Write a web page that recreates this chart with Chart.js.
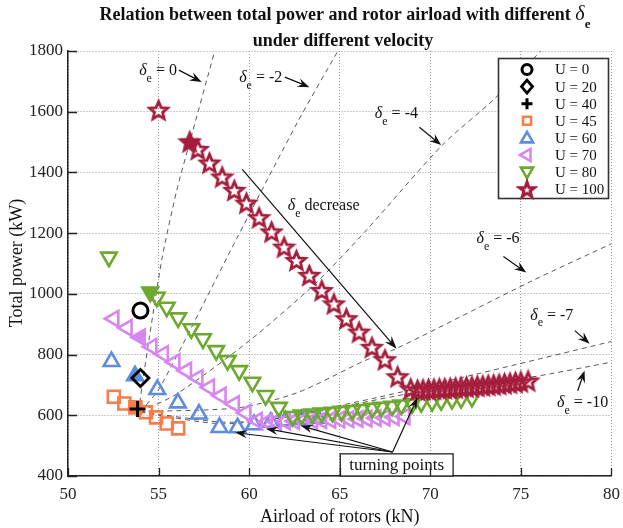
<!DOCTYPE html>
<html><head><meta charset="utf-8">
<script src="https://cdn.jsdelivr.net/npm/chart.js@4.4.0/dist/chart.umd.min.js"></script>
<style>html,body{margin:0;padding:0;background:#fff;}</style>
</head><body>
<canvas id="c" width="623" height="528"></canvas>
<script>
// ---------------- data ----------------
const xTickValues = [50, 55, 60, 65, 70, 75, 80];
const yTickValues = [400, 600, 800, 1000, 1200, 1400, 1600, 1800];
const seriesLabels = ['U = 0', 'U = 20', 'U = 40', 'U = 45', 'U = 60', 'U = 70', 'U = 80', 'U = 100'];

const u0X = [54.0];
const u0Y = [945];
const u20X = [54.0];
const u20Y = [723];
const u40X = [53.84];
const u40Y = [621];
const u45X = [52.53, 53.11, 53.72, 54.30, 54.86, 55.45, 56.08];
const u45Y = [661, 639, 626, 610, 593, 573, 557];
const u60X = [52.4, 53.7, 54.93, 56.07, 57.23, 58.36, 59.36, 60.27, 61.19, 62.0, 62.9, 63.8];
const u60Y = [777, 730, 685, 641, 604, 560, 559, 569, 577, 582, 586, 590];
const u70X = [52.53, 53.26, 53.99, 54.63, 55.26, 55.9, 56.54, 57.17, 57.81, 58.45, 59.18, 59.82, 60.45,
              61.0, 61.5, 62.0, 62.5, 63.0, 63.5, 64.0, 64.5, 65.0, 65.5, 66.0, 66.5, 67.0, 67.5, 68.0, 68.6];
const u70Y = [918, 888, 857, 826, 802, 775, 747, 723, 692, 665, 637, 608, 582,
              578, 579, 580, 581, 582, 583, 584, 585, 586, 587, 588, 589, 591, 592, 594, 596];
const u80X = [52.26, 54.54, 54.9, 55.45, 56.08, 56.81, 57.45, 58.18, 58.81, 59.45, 60.18, 60.91, 61.64, 62.4,
              62.9, 63.5, 64.0, 64.6, 65.1, 65.7, 66.2, 66.8, 67.3, 67.9, 68.4, 69.0, 69.5, 70.1, 70.6, 71.2, 71.7, 72.3];
const u80Y = [1121, 1006, 989, 956, 921, 885, 852, 813, 780, 747, 709, 665, 626, 596,
              601, 604, 607, 610, 613, 616, 619, 623, 626, 630, 634, 638, 642, 645, 648, 652, 655, 659];
const u100X = [55.0, 56.72, 57.17, 57.81, 58.51, 59.18, 59.85, 60.55, 61.24, 61.93, 62.61, 63.32, 64.01, 64.68,
               65.37, 66.07, 66.78, 67.5, 68.2, 68.92, 69.3, 69.6, 69.9, 70.2, 70.5, 70.8, 71.1, 71.4, 71.7, 72.0,
               72.3, 72.6, 72.9, 73.2, 73.5, 73.8, 74.1, 74.4, 74.7, 75.0, 75.4];
const u100Y = [1605, 1501, 1476, 1431, 1385, 1341, 1299, 1251, 1204, 1154, 1110, 1061, 1011, 967,
               918, 874, 824, 783, 727, 687, 683, 684, 685, 686, 687, 688, 689, 690, 692, 693,
               694, 696, 697, 699, 700, 702, 704, 706, 708, 710, 713];

// constant-delta_e reference curves
const de0X = [53.9, 54.1, 54.5, 55.2, 56.0, 56.7, 58.1];
const de0Y = [612, 700, 860, 1120, 1340, 1495, 1800];
const de2X = [54.0, 55.08, 59.27, 62.73, 64.9];
const de2Y = [612, 692, 1177, 1572, 1800];
const de4X = [54.0, 56.0, 60.0, 63.64, 66.46, 70.66, 73.5, 76.1];
const de4Y = [612, 670, 845, 1033, 1209, 1490, 1640, 1800];
const de6X = [54.0, 59.45, 62.73, 66.38, 68.1, 75.66, 80];
const de6Y = [612, 625, 676, 780, 819, 1044, 1165];
const de7X = [54.0, 58.4, 61.0, 67.1, 72.57, 80];
const de7Y = [612, 578, 585, 659, 736, 843];
const de10X = [54.0, 58.5, 62.5, 68.9, 75.5, 80];
const de10Y = [610, 572, 598, 672, 725, 775];

// ---------------- styling ----------------
const SERIF = '"Liberation Serif", "DejaVu Serif", serif';
const colors = ['#000000', '#000000', '#000000', '#F97C4A', '#5F8CDE', '#D886F0', '#6CA92E', '#A51D3D'];

function pts(xs, ys) { return xs.map((x, i) => ({ x: x, y: ys[i] })); }

function makeStar(R, color, filled, lw, ratio) {
  const c = document.createElement('canvas');
  const s = Math.ceil(R * 2 + 6);
  c.width = s; c.height = s;
  const g = c.getContext('2d');
  g.translate(s / 2, s / 2 + 0.8);
  g.beginPath();
  const r = R * ratio;
  for (let i = 0; i < 10; i++) {
    const a = -Math.PI / 2 + i * Math.PI / 5;
    const rr = i % 2 === 0 ? R : r;
    const px = Math.cos(a) * rr, py = Math.sin(a) * rr;
    if (i === 0) g.moveTo(px, py); else g.lineTo(px, py);
  }
  g.closePath();
  g.lineJoin = 'miter';
  g.lineWidth = lw;
  g.strokeStyle = color;
  if (filled) { g.fillStyle = color; g.fill(); }
  g.stroke();
  return c;
}
const starHollow = makeStar(9.5, colors[7], false, 2.8, 0.45);
const starFilled = makeStar(9.5, colors[7], true, 2.8, 0.45);
const starLegend = makeStar(8, colors[7], false, 3, 0.4);

function markerDs(idx, xs, ys, style, radius, lw, rotation, filledIndex, order) {
  const col = colors[idx];
  return {
    label: seriesLabels[idx],
    data: pts(xs, ys),
    showLine: false,
    borderColor: col,
    pointBorderColor: col,
    pointBackgroundColor: (ctx) => ctx.dataIndex === filledIndex ? col : 'rgba(0,0,0,0)',
    pointStyle: style,
    pointRadius: radius,
    pointBorderWidth: lw,
    pointRotation: rotation,
    order: order,
    _legend: { style: style, rotation: rotation, color: col, lw: lw }
  };
}
function lineDs(xs, ys) {
  return {
    label: '',
    data: pts(xs, ys),
    showLine: true,
    borderColor: '#5a5a5a',
    borderWidth: 1,
    borderDash: [5, 4],
    pointRadius: 0,
    tension: 0.25,
    order: 20
  };
}

const datasets = [
  markerDs(0, u0X, u0Y, 'circle', 7.5, 3, 0, -1, 1),
  markerDs(1, u20X, u20Y, 'rectRot', 8.5, 2.8, 0, -1, 2),
  markerDs(2, u40X, u40Y, 'cross', 8, 3, 0, -1, 3),
  markerDs(3, u45X, u45Y, 'rect', 8.5, 2.6, 0, 2, 9),
  markerDs(4, u60X, u60Y, 'triangle', 9, 2.6, 0, 1, 8),
  markerDs(5, u70X, u70Y, 'triangle', 9, 2.6, -90, 2, 7),
  markerDs(6, u80X, u80Y, 'triangle', 9, 2.6, 180, 1, 6),
  Object.assign(markerDs(7, u100X, u100Y, 'star', 9, 0, 0, 1, 5), {
    pointStyle: (ctx) => ctx.dataIndex === 1 ? starFilled : starHollow
  }),
  lineDs(de0X, de0Y), lineDs(de2X, de2Y), lineDs(de4X, de4Y),
  lineDs(de6X, de6Y), lineDs(de7X, de7Y), lineDs(de10X, de10Y)
];

// ---------------- helpers for drawing text/arrows ----------------
function arrow(ctx, x1, y1, x2, y2, head, half) {
  head = head || 11; half = half || 4.2;
  const a = Math.atan2(y2 - y1, x2 - x1);
  const c = Math.cos(a), s = Math.sin(a);
  ctx.beginPath();
  ctx.moveTo(x1, y1);
  ctx.lineTo(x2 - head * 0.6 * c, y2 - head * 0.6 * s);
  ctx.stroke();
  ctx.beginPath();
  ctx.moveTo(x2, y2);
  ctx.lineTo(x2 - head * c + half * s, y2 - head * s - half * c);
  ctx.lineTo(x2 - head * 0.65 * c, y2 - head * 0.65 * s);
  ctx.lineTo(x2 - head * c - half * s, y2 - head * s + half * c);
  ctx.closePath();
  ctx.fill();
}
function deltaLabel(ctx, x, y, rest, size) {
  ctx.textAlign = 'left';
  ctx.textBaseline = 'alphabetic';
  ctx.font = 'italic ' + size + 'px ' + SERIF;
  ctx.fillText('\u03B4', x, y);
  const w = ctx.measureText('\u03B4').width;
  const sub = Math.round(size * 0.72);
  ctx.font = sub + 'px ' + SERIF;
  ctx.fillText('e', x + w, y + size * 0.42);
  const we = ctx.measureText('e').width;
  ctx.font = size + 'px ' + SERIF;
  ctx.fillText(rest, x + w + we, y);
}

// annotation positions in data units
const labelDefs = [
  { t: ' = 0', x: 53.93, y: 1721, ax: [56.12, 1737, 57.38, 1698] },
  { t: ' = -2', x: 59.45, y: 1698, ax: [61.97, 1714, 63.33, 1681] },
  { t: ' = -4', x: 66.94, y: 1579, ax: [69.4, 1549, 70.6, 1490] },
  { t: ' = -6', x: 72.55, y: 1166, ax: [74.04, 1123, 75.3, 1070] },
  { t: ' = -7', x: 75.52, y: 915, ax: [77.98, 879, 78.8, 836] },
  { t: ' = -10', x: 77.0, y: 628, ax: [78.14, 681, 78.52, 747] }
];
const turnTail = [67.92, 479];
const turnTips = [[59.23, 543], [60.93, 556], [62.84, 566], [69.29, 658]];

const annotPlugin = {
  id: 'annot',
  afterDatasetsDraw(chart) {
    const ctx = chart.ctx;
    const X = (v) => chart.scales.x.getPixelForValue(v);
    const Y = (v) => chart.scales.y.getPixelForValue(v);
    ctx.save();
    ctx.fillStyle = '#111';
    ctx.strokeStyle = '#111';
    ctx.lineWidth = 1.2;
    labelDefs.forEach(d => {
      deltaLabel(ctx, X(d.x), Y(d.y), d.t, 16);
      arrow(ctx, X(d.ax[0]), Y(d.ax[1]), X(d.ax[2]), Y(d.ax[3]), 12, 4.5);
    });
    // delta_e decrease
    deltaLabel(ctx, X(62.13), Y(1275), ' decrease', 16);
    arrow(ctx, X(59.62), Y(1410), X(68.14), Y(819), 13, 4.5);
    // turning points
    turnTips.forEach(t => arrow(ctx, X(turnTail[0]), Y(turnTail[1]), X(t[0]), Y(t[1]), 12, 4.2));
    const bx1 = X(65.03), bx2 = X(71.26), by1 = Y(473), by2 = Y(400);
    ctx.fillStyle = '#fff';
    ctx.fillRect(bx1, by1, bx2 - bx1, by2 - by1);
    ctx.lineWidth = 1.2;
    ctx.strokeRect(bx1, by1, bx2 - bx1, by2 - by1);
    ctx.fillStyle = '#111';
    ctx.font = '17px ' + SERIF;
    ctx.textAlign = 'center';
    ctx.textBaseline = 'middle';
    ctx.fillText('turning points', (bx1 + bx2) / 2, (by1 + by2) / 2 + 1);
    ctx.restore();
  }
};

function drawMarker(ctx, m, x, y) {
  ctx.save();
  ctx.strokeStyle = m.color;
  ctx.lineWidth = m.lw;
  ctx.beginPath();
  if (m.style === 'circle') {
    ctx.arc(x, y, 5, 0, Math.PI * 2);
  } else if (m.style === 'rectRot') {
    ctx.moveTo(x, y - 6.5); ctx.lineTo(x + 5.5, y); ctx.lineTo(x, y + 6.5); ctx.lineTo(x - 5.5, y); ctx.closePath();
  } else if (m.style === 'cross') {
    ctx.moveTo(x - 5.5, y); ctx.lineTo(x + 5.5, y); ctx.moveTo(x, y - 5.5); ctx.lineTo(x, y + 5.5);
  } else if (m.style === 'rect') {
    ctx.rect(x - 4, y - 4, 8, 8);
  } else if (m.style === 'triangle') {
    const r = 7, rad = m.rotation * Math.PI / 180;
    for (let k = 0; k < 3; k++) {
      const a = rad + k * 2 * Math.PI / 3;
      const px = x + Math.sin(a) * r, py = y - Math.cos(a) * r + (m.rotation === 0 ? 1 : m.rotation === 180 ? -1 : 0);
      if (k === 0) ctx.moveTo(px, py); else ctx.lineTo(px, py);
    }
    ctx.closePath();
  }
  if (m.style === 'star') {
    ctx.drawImage(starLegend, x - starLegend.width / 2, y - starLegend.height / 2);
  } else {
    ctx.stroke();
  }
  ctx.restore();
}

const legendPlugin = {
  id: 'customLegend',
  afterDraw(chart) {
    const ctx = chart.ctx;
    ctx.save();
    ctx.fillStyle = '#fff';
    ctx.fillRect(498, 58, 110, 140);
    ctx.strokeStyle = '#333';
    ctx.lineWidth = 1.6;
    ctx.strokeRect(498.5, 58.5, 110, 140);
    ctx.font = '15px ' + SERIF;
    ctx.textAlign = 'left';
    ctx.textBaseline = 'middle';
    chart.data.datasets.forEach((ds, i) => {
      if (!ds._legend) return;
      const y = 69.5 + i * 17.1;
      drawMarker(ctx, ds._legend, 527, y);
      ctx.fillStyle = '#111';
      ctx.fillText(ds.label, 555, y + 1);
    });
    ctx.restore();
  }
};

const framePlugin = {
  id: 'frame',
  afterDraw(chart) {
    const ctx = chart.ctx;
    const a = chart.chartArea;
    ctx.save();
    ctx.strokeStyle = '#222';
    ctx.lineWidth = 1.3;
    ctx.beginPath();
    xTickValues.forEach(v => {
      const x = Math.round(chart.scales.x.getPixelForValue(v)) + 0.5;
      ctx.moveTo(x, a.bottom); ctx.lineTo(x, a.bottom - 8);
    });
    yTickValues.forEach(v => {
      const y = Math.round(chart.scales.y.getPixelForValue(v)) + 0.5;
      ctx.moveTo(a.left, y); ctx.lineTo(a.left + 9, y);
    });
    ctx.stroke();
    // axis titles
    ctx.fillStyle = '#111';
    ctx.font = '18px ' + SERIF;
    ctx.textAlign = 'center';
    ctx.textBaseline = 'middle';
    ctx.fillText('Airload of rotors (kN)', (a.left + a.right) / 2, 517);
    ctx.save();
    ctx.translate(17, 263);
    ctx.rotate(-Math.PI / 2);
    ctx.fillText('Total power (kW)', 0, 0);
    ctx.restore();
    // title
    const line1 = 'Relation between total power and rotor airload with different ';
    ctx.textBaseline = 'alphabetic';
    ctx.textAlign = 'left';
    ctx.font = 'bold 18px ' + SERIF;
    const w1 = ctx.measureText(line1).width;
    ctx.font = 'italic 20px ' + SERIF;
    const wd = ctx.measureText('\u03B4').width;
    ctx.font = 'bold 13px ' + SERIF;
    const we = ctx.measureText('e').width;
    const cx = 345;
    let x0 = cx - (w1 + wd + we) / 2;
    ctx.font = 'bold 18px ' + SERIF;
    ctx.fillText(line1, x0, 20);
    ctx.font = 'italic 20px ' + SERIF;
    ctx.fillText('\u03B4', x0 + w1, 20);
    ctx.font = 'bold 13px ' + SERIF;
    ctx.fillText('e', x0 + w1 + wd, 28);
    ctx.font = 'bold 18px ' + SERIF;
    ctx.textAlign = 'center';
    ctx.fillText('under different velocity', 343, 46);
    ctx.restore();
  }
};

new Chart(document.getElementById('c'), {
  type: 'scatter',
  data: { datasets: datasets },
  options: {
    responsive: false,
    animation: false,
    devicePixelRatio: 1,
    layout: { padding: { top: 51, right: 6, left: 0, bottom: 0 } },
    plugins: { legend: { display: false }, tooltip: { enabled: false }, title: { display: false } },
    scales: {
      x: {
        type: 'linear', min: 50, max: 80,
        ticks: { stepSize: 5, color: '#222', font: { family: SERIF, size: 17 }, padding: 8, maxRotation: 0,
                 callback: (v) => xTickValues.includes(v) ? String(v) : '' },
        grid: { color: '#9a9a9a', lineWidth: 1, drawTicks: false },
        border: { display: true, color: '#222', width: 1.5, dash: [1, 2] },
        afterFit(s) { s.height = 52; s.paddingLeft = 0; s.paddingRight = 0; }
      },
      y: {
        type: 'linear', min: 400, max: 1800,
        ticks: { stepSize: 200, color: '#222', font: { family: SERIF, size: 17 }, padding: 5,
                 callback: (v) => yTickValues.includes(v) ? String(v) : '' },
        grid: { color: '#9a9a9a', lineWidth: 1, drawTicks: false },
        border: { display: true, color: '#222', width: 1.5, dash: [1, 2] },
        afterFit(s) { s.width = 68; s.paddingTop = 0; s.paddingBottom = 0; }
      }
    }
  },
  plugins: [annotPlugin, legendPlugin, framePlugin]
});
</script>
</body></html>
